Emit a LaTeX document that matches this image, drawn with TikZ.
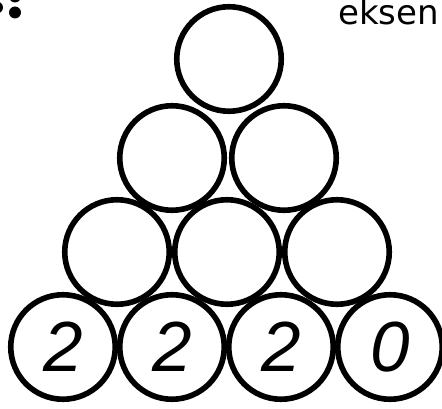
\documentclass[tikz,border=0pt]{standalone}
\usepackage{fontspec}
\setmainfont{Liberation Sans}
\newfontfamily\ekfont{DejaVu Sans}
\begin{document}
\begin{tikzpicture}[x=1pt,y=-1pt,
  ball/.style={circle,draw=black,line width=5.6pt,minimum size=104.5pt,inner sep=0pt,
    font=\fontsize{71}{71}\selectfont\itshape}]
\useasboundingbox (0,0) rectangle (442,409);
\fill[white] (0,0) rectangle (442,409);
\clip (0,0) rectangle (442,409);
% row 1
\node[ball] (r1a) at (229,59) {};
% row 2
\node[ball] (r2a) at (172,158) {};
\node[ball] (r2b) at (284,158) {};
% row 3
\node[ball] (r3a) at (117,252) {};
\node[ball] (r3b) at (227,252) {};
\node[ball] (r3c) at (337,252) {};
% row 4
\node[ball] (r4a) at (63,347) {2};
\node[ball] (r4b) at (172,347) {2};
\node[ball] (r4c) at (281,347) {2};
\node[ball] (r4d) at (390,347) {0};
% top text
\node[anchor=base west,inner sep=0pt,font=\ekfont\fontsize{34}{34}\selectfont] (ek) at (338,25) {eksen};
% partial mark at the top-left edge
\fill[black] (15,12.5) circle (6);
\fill[black] (15,-3.5) circle (6);
\fill[black] (-3,7.5) circle (6);
\end{tikzpicture}
\end{document}
